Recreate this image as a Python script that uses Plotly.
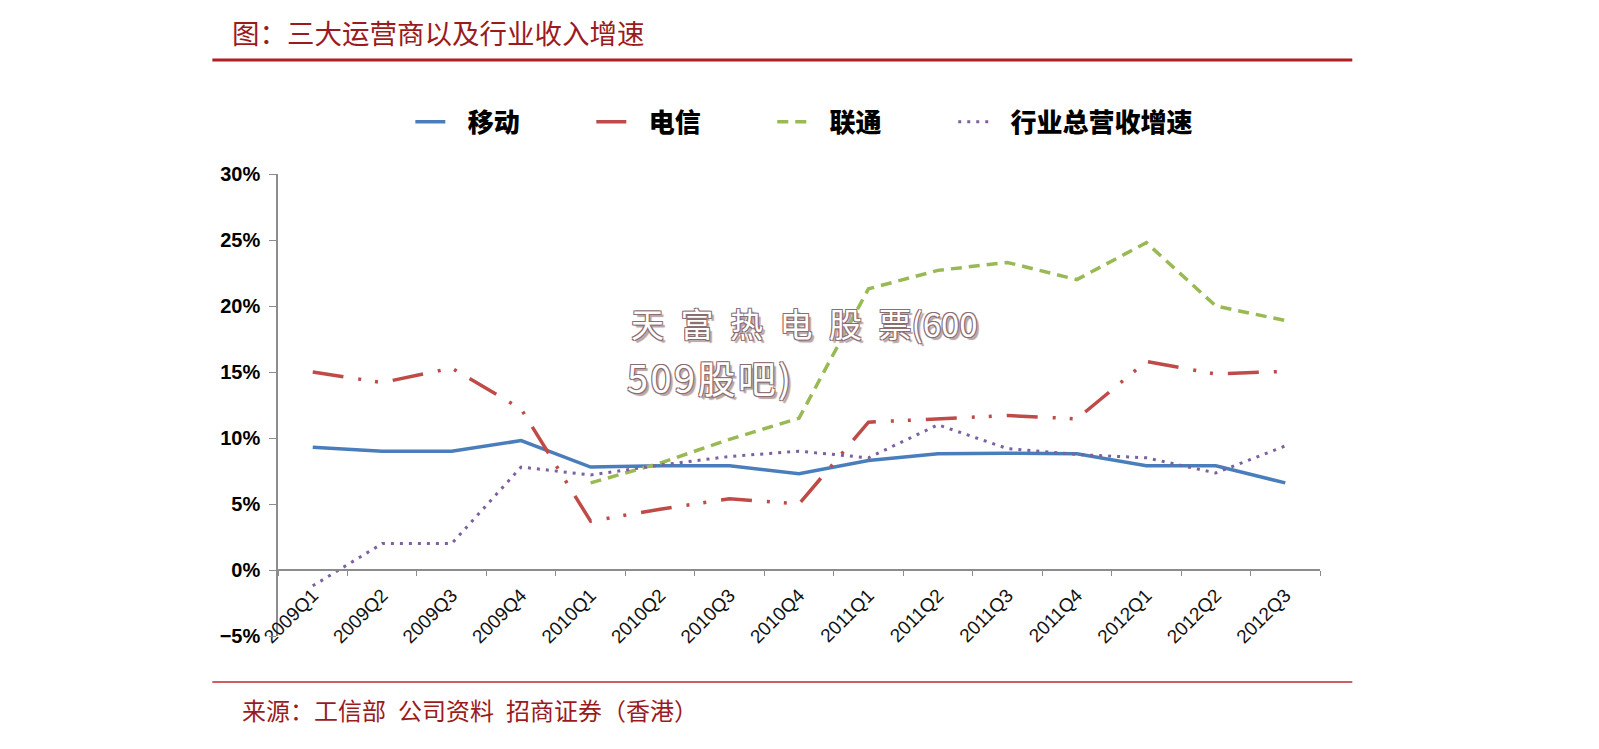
import plotly.graph_objects as go

# quarterly revenue growth (%)
quarters = ["2009Q1", "2009Q2", "2009Q3", "2009Q4",
            "2010Q1", "2010Q2", "2010Q3", "2010Q4",
            "2011Q1", "2011Q2", "2011Q3", "2011Q4",
            "2012Q1", "2012Q2", "2012Q3"]

mobile = [9.3, 9.0, 9.0, 9.8, 7.8, 7.9, 7.9, 7.3, 8.3, 8.8, 8.85, 8.8, 7.9, 7.9, 6.6]
telecom = [15.0, 14.2, 15.3, 12.2, 3.7, 4.6, 5.4, 5.0, 11.2, 11.45, 11.7, 11.45, 15.8, 14.85, 15.05]
unicom = [None, None, None, None, 6.6, 8.1, 9.9, 11.5, 21.3, 22.7, 23.3, 22.0, 24.8, 20.0, 18.9]
industry = [-1.2, 2.0, 2.0, 7.8, 7.2, 7.95, 8.6, 9.0, 8.5, 11.0, 9.2, 8.75, 8.5, 7.35, 9.4]

names = ["移动", "电信", "联通", "行业总营收增速"]
y_min, y_max = -5, 30

# non-collapsing spaces: a gap after the legend line, padding between entries
lead = "\u2002\u2006"
pad = "\u3000\u3000\u2002\u200a"
fig = go.Figure()
fig.add_trace(go.Scatter(x=quarters, y=mobile, name=lead + names[0] + pad, mode="lines",
                         line=dict(color="#4A7EBB", width=3.5)))
fig.add_trace(go.Scatter(x=quarters, y=telecom, name=lead + names[1] + pad, mode="lines",
                         line=dict(color="#BE4B48", width=3.5,
                                   dash="31px,15px,3px,14px,3px,15px")))
fig.add_trace(go.Scatter(x=quarters, y=unicom, name=lead + names[2] + pad, mode="lines",
                         line=dict(color="#98B954", width=3.5, dash="11px,7px")))
fig.add_trace(go.Scatter(x=quarters, y=industry, name=lead + names[3], mode="lines",
                         line=dict(color="#7D60A0", width=3, dash="3px,6px")))

title_red = "#9A1B1E"
cjk = "Noto Sans CJK SC"

# page body has an 8px margin, so the figure is 8px smaller and shifted
fig.update_layout(
    width=1591, height=741,
    margin=dict(l=270, r=279, t=166, b=113),
    paper_bgcolor="white", plot_bgcolor="white",
    showlegend=True,
    legend=dict(orientation="h", x=0.127, y=1.113, xanchor="left", yanchor="middle",
                font=dict(family=cjk, size=26, color="black", weight=900),
                bgcolor="rgba(0,0,0,0)"),
    xaxis=dict(type="category", categoryorder="array", categoryarray=quarters,
               range=[-0.5, len(quarters) - 0.5],
               anchor="free", position=(0 - y_min) / (y_max - y_min),
               showline=True, linecolor="#8C8C8C", linewidth=1.5,
               ticks="outside", tickson="boundaries", ticklen=5, tickcolor="#8C8C8C",
               tickangle=-45, showgrid=False, ticklabelstandoff=6,
               tickfont=dict(family="Liberation Sans", size=19, color="#111")),
    yaxis=dict(range=[y_min, y_max], dtick=5, ticksuffix="%",
               showline=True, linecolor="#8C8C8C", linewidth=1.5,
               ticks="outside", ticklen=7, tickcolor="#8C8C8C",
               showgrid=False, zeroline=False, ticklabelstandoff=5,
               tickfont=dict(family="Liberation Sans", size=20, color="black", weight="bold")),
)

# title and source text
fig.add_annotation(text="图：三大运营商以及行业收入增速", xref="paper", yref="paper",
                   x=-0.046, y=1.307, xanchor="left", yanchor="middle", showarrow=False,
                   font=dict(family=cjk, size=27.5, color=title_red))
fig.add_annotation(text="来源：工信部\u2002公司资料\u2002招商证券（香港）", xref="paper", yref="paper",
                   x=-0.036, y=-0.160, xanchor="left", yanchor="middle", showarrow=False,
                   font=dict(family=cjk, size=24, color=title_red))

# red rules
fig.add_shape(type="line", xref="paper", yref="paper", x0=-0.063, x1=1.031,
              y0=1.2468, y1=1.2468, line=dict(color="#B01E23", width=3))
fig.add_shape(type="line", xref="paper", yref="paper", x0=-0.063, x1=1.031,
              y0=-0.0996, y1=-0.0996, line=dict(color="#C0282D", width=1.5))

# watermark
wm_font = dict(family=cjk, size=33, color="white",
               shadow="1px 1px 0 #8a6d70, -1px -1px 0 #8a6d70, 1px -1px 0 #8a6d70, "
                      "-1px 1px 0 #8a6d70, 3px 3px 1px #b7a5a7")
fig.add_annotation(text="\u2002".join("天富热电股票") + "(600", xref="paper", yref="paper",
                   x=0.337, y=0.677, xanchor="left", yanchor="middle", showarrow=False,
                   font=wm_font)
fig.add_annotation(text="\u200a".join("509股吧)"), xref="paper", yref="paper",
                   x=0.333, y=0.561, xanchor="left", yanchor="middle", showarrow=False,
                   font=dict(wm_font, size=38))

fig.write_html("out.html")
